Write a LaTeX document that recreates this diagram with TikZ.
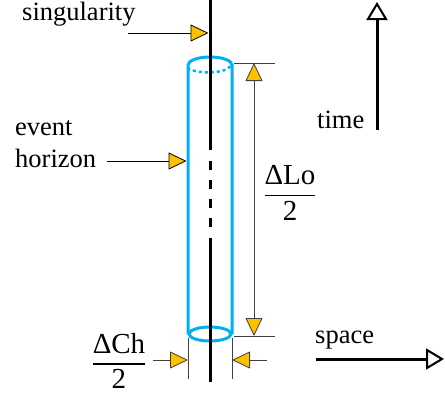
\documentclass[tikz,border=0pt]{standalone}
\usepackage{amsmath}
\usepackage{fontspec}
\setmainfont{Liberation Serif}
\usetikzlibrary{arrows.meta}
\definecolor{hblue}{HTML}{00B0F0}
\definecolor{tipgold}{HTML}{FFC000}
\definecolor{dimgray}{HTML}{404040}
\tikzset{
  lbl/.style={inner sep=0pt, font=\rmfamily\fontsize{26.5}{32}\selectfont},
  fraclbl/.style={inner sep=0pt, font=\rmfamily\fontsize{29}{34}\selectfont},
  goldtip/.tip={Triangle[length=18pt,width=17pt,fill=tipgold,line width=0.8pt]},
  pointer/.style={draw=black, line width=0.9pt, -goldtip},
  dimline/.style={draw=dimgray, line width=0.9pt},
  dimarrow/.style={dimline, goldtip-goldtip},
  dimpointer/.style={dimline, -goldtip},
  horizon/.style={draw=hblue, line width=3pt},
  axisarrow/.style={line width=3pt, -{Triangle[length=18pt,width=21pt,line width=2pt,fill=white]}},
  worldline/.style={line width=3pt}
}
\begin{document}
\begin{tikzpicture}[x=1pt,y=-1pt]
\useasboundingbox (0,0) rectangle (445,394);

% event horizon cylinder
\draw[horizon] (188,334) -- (188,65)
  arc[start angle=180,end angle=0,x radius=22pt,y radius=8pt] -- (232,334);
\draw[draw=hblue, line width=2.5pt, dash pattern=on 3pt off 3pt]
  (230,66) arc[start angle=-5,end angle=-175,x radius=22pt,y radius=7pt];
\draw[horizon] (210,334) ellipse[x radius=21pt,y radius=7pt];

% singularity world line
\coordinate (sTop) at (210,0);
\coordinate (sA) at (210,150);
\coordinate (sB) at (210,161);
\coordinate (sC) at (210,228);
\coordinate (sD) at (210,238);
\coordinate (sBot) at (210,382);
\draw[worldline] (sTop) -- (sA);
\draw[worldline, dash pattern=on 9pt off 10pt] (sB) -- (sC);
\draw[worldline] (sD) -- (sBot);

% labels
\node[lbl, anchor=base west] (sing) at (22,20) {singularity};
\node[lbl, anchor=base west] (ev) at (15,135) {event};
\node[lbl, anchor=base west] (eh) at (15,167) {horizon};
\node[lbl, anchor=base west] (time) at (317,128) {time};
\node[lbl, anchor=base west] (space) at (315,343) {space};
\node[fraclbl] (lo) at (290,193) {$\displaystyle\genfrac{}{}{1.6pt}{0}{\mbox{ΔLo}}{\mbox{2}}$};
\node[fraclbl] (ch) at (119,361) {$\displaystyle\genfrac{}{}{1.6pt}{0}{\mbox{ΔCh}}{\mbox{2}}$};

% pointers
\coordinate (singFrom) at (128,33);
\coordinate (singTo) at (208.5,33);
\draw[pointer] (singFrom) -- (singTo);
\coordinate (ehFrom) at (107,161);
\coordinate (ehTo) at (186.5,161);
\draw[pointer] (ehFrom) -- (ehTo);

% length dimension
\coordinate (loT1) at (233.5,63);
\coordinate (loT2) at (275,63);
\coordinate (loB1) at (233.5,336);
\coordinate (loB2) at (275,336);
\coordinate (loTop) at (254,63);
\coordinate (loBot) at (254,336);
\draw[dimline] (loT1) -- (loT2);
\draw[dimline] (loB1) -- (loB2);
\draw[dimarrow] (loTop) -- (loBot);

% width dimension
\coordinate (chL1) at (188,338);
\coordinate (chL2) at (188,379);
\coordinate (chR1) at (232,338);
\coordinate (chR2) at (232,379);
\draw[dimline] (chL1) -- (chL2);
\draw[dimline] (chR1) -- (chR2);
\coordinate (chLfrom) at (153,360);
\coordinate (chLto) at (188,360);
\coordinate (chRfrom) at (267,360);
\coordinate (chRto) at (232,360);
\draw[dimpointer] (chLfrom) -- (chLto);
\draw[dimpointer] (chRfrom) -- (chRto);

% axes
\coordinate (tFrom) at (377,130);
\coordinate (tTo) at (377,2);
\draw[axisarrow] (tFrom) -- (tTo);
\coordinate (xFrom) at (316,359);
\coordinate (xTo) at (444,359);
\draw[axisarrow] (xFrom) -- (xTo);
\end{tikzpicture}
\end{document}
